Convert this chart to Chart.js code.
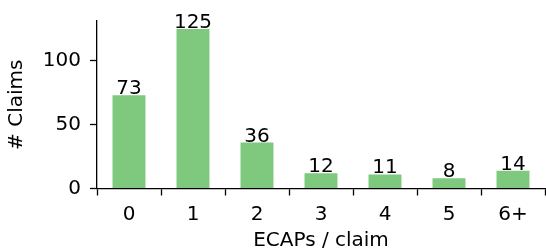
<!DOCTYPE html>
<html><head><meta charset="utf-8">
<script src="https://cdn.jsdelivr.net/npm/chart.js@4/dist/chart.umd.min.js"></script>
<style>html,body{margin:0;padding:0;background:#fff;}#wrap{width:546px;height:251px;}</style>
</head><body><div id="wrap"><canvas id="c" width="546" height="251"></canvas></div>
<script>
const categories = ["0","1","2","3","4","5","6+"];
const claims = [73,125,36,12,11,8,14];
const yTicks = [0,50,100];
const FONT = "'DejaVu Sans'";
const FS = 20;

const labelPlugin = {
  id:'barLabels',
  afterDatasetsDraw(chart){
    const ctx = chart.ctx;
    const meta = chart.getDatasetMeta(0);
    ctx.save();
    ctx.font = FS + "px " + FONT;
    ctx.fillStyle = '#000';
    ctx.textAlign = 'center';
    ctx.textBaseline = 'alphabetic';
    meta.data.forEach((el,i)=>{
      ctx.fillText(String(claims[i]), el.x, el.y - 1);
    });
    ctx.restore();
  }
};

new Chart(document.getElementById('c'), {
  type:'bar',
  data:{labels:categories, datasets:[{data:claims, backgroundColor:'#7fc97f', borderWidth:0, barPercentage:0.515, categoryPercentage:1}]},
  options:{
    responsive:false, animation:false, devicePixelRatio:1,
    layout:{padding:{top:19,right:1,left:0,bottom:0}},
    plugins:{legend:{display:false}, tooltip:{enabled:false}},
    scales:{
      x:{
        offset:true,
        grid:{display:true, drawOnChartArea:false, drawTicks:true, tickLength:7, color:'#000', tickWidth:1.3},
        border:{display:true, color:'#000', width:1.3},
        ticks:{color:'#000', font:{family:FONT, size:FS}, padding:7},
        title:{display:true, text:'ECAPs / claim', color:'#000', font:{family:FONT, size:FS}, padding:{top:2,bottom:-2}},
        afterFit(s){ s.height = 62.5; }
      },
      y:{
        min:0, max:131.25,
        afterBuildTicks(s){ s.ticks = yTicks.map(v=>({value:v})); },
        grid:{display:true, drawOnChartArea:false, drawTicks:true, tickLength:7, color:'#000', tickWidth:1.3},
        border:{display:true, color:'#000', width:1.3},
        ticks:{color:'#000', font:{family:FONT, size:FS}, padding:9},
        title:{display:true, text:'# Claims', color:'#000', font:{family:FONT, size:FS}, padding:{top:5,bottom:4}},
        afterFit(s){ s.width = 97; }
      }
    }
  },
  plugins:[labelPlugin]
});
</script></body></html>
